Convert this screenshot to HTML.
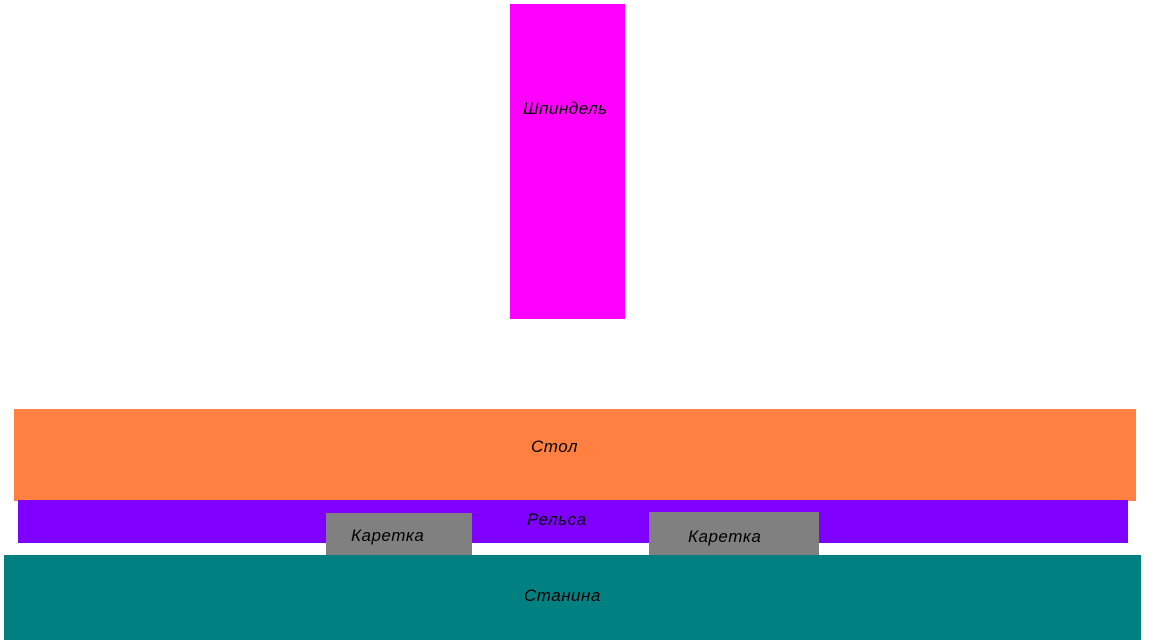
<!DOCTYPE html>
<html><head><meta charset="utf-8"><style>
body{margin:0;width:1160px;height:640px;background:#fff;position:relative;overflow:hidden;font-family:"Liberation Sans",sans-serif;font-style:italic;font-size:17px;letter-spacing:0.5px;color:#000}
div{position:absolute}
span{position:absolute;white-space:nowrap}
</style></head><body>
<div style="left:510px;top:4px;width:115px;height:315px;background:#ff00ff"></div>
<span style="left:523px;top:99px">Шпиндель</span>
<div style="left:14px;top:409px;width:1122px;height:92px;background:#ff8040"></div>
<span style="left:531px;top:437px">Стол</span>
<div style="left:18px;top:500px;width:1110px;height:43px;background:#8000ff"></div>
<span style="left:527px;top:510px">Рельса</span>
<div style="left:326px;top:513px;width:146px;height:42px;background:#808080"></div>
<span style="left:351px;top:526px">Каретка</span>
<div style="left:649px;top:512px;width:170px;height:43px;background:#808080"></div>
<span style="left:688px;top:527px">Каретка</span>
<div style="left:4px;top:555px;width:1137px;height:85px;background:#008080"></div>
<span style="left:524px;top:586px">Станина</span>
</body></html>
